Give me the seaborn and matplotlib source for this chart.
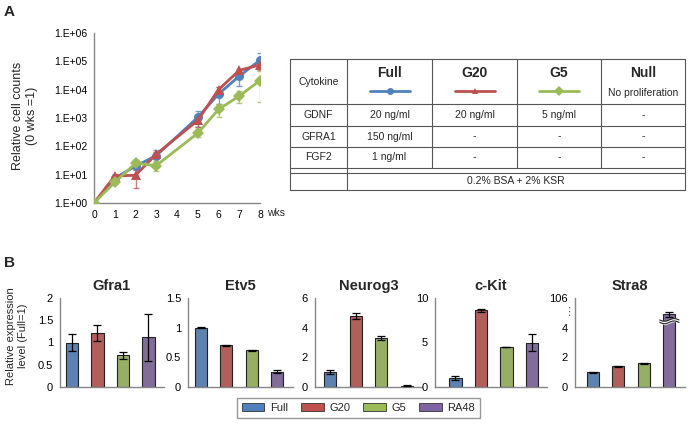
import numpy as np
import pandas as pd
import seaborn as sns
import matplotlib.pyplot as plt
from matplotlib.patches import Patch
from matplotlib.ticker import FuncFormatter, NullLocator

# ---- panel A: growth curves (weeks 0-8, no week 4) ----
weeks = [0, 1, 2, 3, 5, 6, 7, 8]
full = [1, 7.5, 20, 47, 1050, 7000, 30000, 110000]
full_lo = [1, 6, 16, 35, 500, 3000, 13000, 60000]
full_hi = [1, 9, 25, 75, 1800, 12000, 50000, 190000]
g20 = [1, 9, 9.5, 53, 820, 10000, 48000, 75000]
g20_lo = [1, 8, 3.4, 42, 500, 8000, 40000, 50000]
g20_hi = [1, 10.5, 15, 65, 1300, 12500, 55000, 100000]
g5 = [1, 5.4, 25, 21, 290, 2000, 6000, 21000]
g5_lo = [1, 4.7, 19, 13, 210, 1100, 3400, 3700]
g5_hi = [1, 6.2, 34, 30, 390, 3000, 9000, 45000]

# ---- table ----
tab_cols = ['Cytokine', 'Full', 'G20', 'G5', 'Null']
tab_rows = [['GDNF', '20 ng/ml', '20 ng/ml', '5 ng/ml', '-'],
            ['GFRA1', '150 ng/ml', '-', '-', '-'],
            ['FGF2', '1 ng/ml', '-', '-', '-']]
base_medium = '0.2% BSA + 2% KSR'

# ---- panel B: expression ----
groups = ['Full', 'G20', 'G5', 'RA48']
genes = ['Gfra1', 'Etv5', 'Neurog3', 'c-Kit', 'Stra8']
gfra1 = [1.0, 1.22, 0.71, 1.12]
gfra1_err = [0.2, 0.18, 0.07, 0.53]
etv5 = [1.0, 0.70, 0.62, 0.26]
etv5_err = [0.01, 0.012, 0.012, 0.03]
neurog3 = [1.0, 4.8, 3.3, 0.1]
neurog3_err = [0.15, 0.2, 0.15, 0.02]
ckit = [1.0, 8.6, 4.5, 5.0]
ckit_err = [0.2, 0.2, 0.03, 1.0]
stra8 = [1.0, 1.4, 1.6, 98]
stra8_err = [0.03, 0.02, 0.02, 1.2]

colors = {'Full': '#4F81BD', 'G20': '#C0504D', 'G5': '#9BBB59', 'RA48': '#8064A2'}
markers = {'Full': 'o', 'G20': '^', 'G5': 'D'}

sns.set_style('white')
plt.rcParams['font.family'] = ['Liberation Sans', 'DejaVu Sans']
AX_GRAY = '#868686'

W, H = 689, 426
fig = plt.figure(figsize=(W / 100, H / 100), dpi=100)


def px_axes(x0, x1, y0, y1):
    # pixel box (top-left origin) -> figure axes
    return fig.add_axes([x0 / W, 1 - y1 / H, (x1 - x0) / W, (y1 - y0) / H])


# overlay in pixel coordinates for table and labels
ov = fig.add_axes([0, 0, 1, 1], zorder=-1)
ov.set_xlim(0, W)
ov.set_ylim(H, 0)
ov.axis('off')

# ---------------- panel A ----------------
ax = px_axes(94, 260, 33, 203)
series = {'Full': (full, full_lo, full_hi), 'G20': (g20, g20_lo, g20_hi), 'G5': (g5, g5_lo, g5_hi)}
df = pd.concat([pd.DataFrame({'week': weeks, 'count': v[0], 'cond': k}) for k, v in series.items()])
for k, (v, lo, hi) in series.items():
    v = np.array(v, float)
    ax.errorbar(weeks, v, yerr=[v - np.array(lo), np.array(hi) - v], fmt='none',
                ecolor=colors[k], alpha=0.75, elinewidth=1, capsize=2.5, capthick=1, zorder=2)
sns.lineplot(data=df, x='week', y='count', hue='cond', style='cond', markers=markers,
             dashes=False, palette=colors, linewidth=2, markersize=6.5, markeredgewidth=0,
             legend=False, ax=ax, zorder=3)
ax.set_yscale('log')
ax.set_ylim(1, 1e6)
ax.set_xlim(0, 8)
ax.set_xticks(range(9))
ax.yaxis.set_minor_locator(NullLocator())
ax.yaxis.set_major_formatter(FuncFormatter(lambda v, p: '1.E+%02d' % int(round(np.log10(v)))))
ax.set_xlabel('')
ax.set_ylabel('')
for s in ['top', 'right']:
    ax.spines[s].set_visible(False)
for s in ['left', 'bottom']:
    ax.spines[s].set_color(AX_GRAY)
    ax.spines[s].set_linewidth(1)
ax.tick_params(axis='both', labelsize=7.5, colors=AX_GRAY, labelcolor='black',
               direction='out', length=3, width=1, pad=2)
ov.text(267, 213, 'wks', fontsize=7.5, va='center', ha='left')
ov.text(25, 116, 'Relative cell counts\n(0 wks =1)', rotation=90, fontsize=9,
        ha='center', va='center', multialignment='center')
ov.text(4, 12, 'A', fontsize=11, fontweight='bold', va='center')

# ---------------- table ----------------
xs = [290, 347, 432, 517, 601, 685]
ys = [59, 104, 126, 147, 168, 173, 190]
lc = '#555555'
for y in ys:
    ov.plot([xs[0], xs[-1]], [y, y], color=lc, lw=0.8)
for x in [xs[0], xs[1], xs[-1]]:
    ov.plot([x, x], [ys[0], ys[-1]], color=lc, lw=0.8)
for x in xs[2:-1]:
    ov.plot([x, x], [ys[0], ys[4]], color=lc, lw=0.8)
cx = [(a + b) / 2 for a, b in zip(xs[:-1], xs[1:])]
ov.text(cx[0], 82, tab_cols[0], fontsize=7.5, ha='center', va='center')
for i, name in enumerate(tab_cols[1:], start=1):
    ov.text(cx[i], 73, name, fontsize=10, fontweight='bold', ha='center', va='center')
    if name in markers:
        ov.plot([cx[i] - 20, cx[i] + 20], [91, 91], color=colors[name], lw=2)
        ov.plot([cx[i]], [91], marker=markers[name], color=colors[name], ms=5, mew=0)
ov.text(cx[4], 93, 'No proliferation', fontsize=7.5, ha='center', va='center')
for r, row in enumerate(tab_rows):
    yc = (ys[r + 1] + ys[r + 2]) / 2
    for i, val in enumerate(row):
        ov.text(cx[i], yc, val, fontsize=7.5, ha='center', va='center')
ov.text((xs[1] + xs[-1]) / 2, 181.5, base_medium, fontsize=7.5, ha='center', va='center')

# ---------------- panel B ----------------
def stra8_pos(v):
    # broken axis: values above the break are compressed into the top band
    return v if v <= 4.5 else 4.5 + (v - 95) * 1.5 / 11

bar_data = [
    (gfra1, gfra1_err, [0, 0.5, 1, 1.5, 2], ['0', '0.5', '1', '1.5', '2'], 2),
    (etv5, etv5_err, [0, 0.5, 1, 1.5], ['0', '0.5', '1', '1.5'], 1.5),
    (neurog3, neurog3_err, [0, 2, 4, 6], ['0', '2', '4', '6'], 6),
    (ckit, ckit_err, [0, 5, 10], ['0', '5', '10'], 10),
    ([stra8_pos(v) for v in stra8],
     [e if v <= 4.5 else e * 1.5 / 11 for v, e in zip(stra8, stra8_err)],
     [0, 2, 4, 6], ['0', '2', '4', '106'], 6),
]
axis_left = [60, 188, 315, 435, 575]
pads = [0.47, 0.5, 0.6, 0.8, 0.7]
step = 25.5
for gene, (vals, errs, ticks, tlabels, top), xl, pad in zip(genes, bar_data, axis_left, pads):
    bx = px_axes(xl, xl + (pad + 3.6) * step, 298, 387)
    d = pd.DataFrame({'group': groups, 'value': vals})
    sns.barplot(data=d, x='group', y='value', hue='group', palette=colors, width=0.48,
                edgecolor='#222222', linewidth=0.8, errorbar=None, legend=False, ax=bx)
    bx.errorbar(range(4), vals, yerr=errs, fmt='none', ecolor='black', elinewidth=0.9,
                capsize=3, capthick=0.9, zorder=4)
    bx.set_xlim(-pad, 3.6)
    bx.set_ylim(0, top)
    bx.set_yticks(ticks)
    bx.set_yticklabels(tlabels)
    bx.set_xticks([])
    bx.set_xlabel('')
    bx.set_ylabel('')
    bx.set_title(gene, fontsize=10.5, fontweight='bold', pad=6)
    for s in ['top', 'right']:
        bx.spines[s].set_visible(False)
    for s in ['left', 'bottom']:
        bx.spines[s].set_color(AX_GRAY)
        bx.spines[s].set_linewidth(1)
    bx.tick_params(axis='y', labelsize=8, colors=AX_GRAY, labelcolor='black',
                   direction='out', length=3, width=1, pad=2)
    if gene == 'Stra8':
        xx = np.linspace(3 - 0.38, 3 + 0.38, 60)
        wave = 0.09 * np.sin((xx - 3) / 0.76 * 2 * np.pi)
        lo_w, hi_w = 4.36 + wave, 4.52 + wave
        bx.fill_between(xx, lo_w, hi_w, color='white', zorder=5)
        bx.plot(xx, lo_w, color='#222222', lw=0.8, zorder=6)
        bx.plot(xx, hi_w, color='#222222', lw=0.8, zorder=6)
        bx.text(-0.95, 5.05, '⋮', fontsize=8, color='#666666', ha='center', va='center',
                transform=bx.transData, clip_on=False)

ov.text(17, 336, 'Relative expression\nlevel (Full=1)', rotation=90, fontsize=8,
        ha='center', va='center', multialignment='center')
ov.text(4, 263, 'B', fontsize=11, fontweight='bold', va='center')

handles = [Patch(facecolor=colors[g], edgecolor='#333333', linewidth=0.6) for g in groups]
fig.legend(handles, groups, ncol=4, loc='center', bbox_to_anchor=(358.5 / W, 1 - 408 / H),
           frameon=True, fancybox=False, edgecolor='#7f7f7f', fontsize=8,
           handlelength=2.0, handleheight=0.8, columnspacing=1.2, borderpad=0.45,
           handletextpad=0.5)

fig.savefig('out.png', dpi=100)
